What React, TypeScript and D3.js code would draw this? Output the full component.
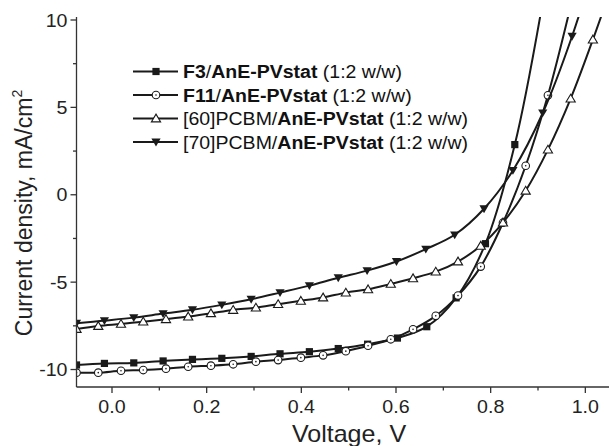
import React from 'react';
import * as d3 from 'd3';

// J-V curves
const f3X = [-0.075, -0.016, 0.046, 0.108, 0.170, 0.232, 0.294, 0.355, 0.417, 0.478, 0.540, 0.603, 0.665, 0.727, 0.789, 0.851, 0.913];
const f3Y = [-9.74, -9.65, -9.62, -9.51, -9.42, -9.36, -9.25, -9.1, -8.98, -8.8, -8.55, -8.2, -7.55, -5.9, -2.8, 2.87, 11.5];

const f11X = [-0.075, -0.029, 0.019, 0.066, 0.114, 0.161, 0.209, 0.256, 0.304, 0.351, 0.399, 0.446, 0.494, 0.541, 0.589, 0.636, 0.684, 0.731, 0.779, 0.826, 0.874, 0.921, 0.969];
const f11Y = [-10.18, -10.18, -10.07, -10.03, -9.95, -9.84, -9.78, -9.7, -9.55, -9.46, -9.32, -9.19, -8.95, -8.64, -8.27, -7.7, -6.93, -5.77, -4.11, -1.6, 1.66, 5.69, 10.8];

const pc60X = [-0.075, -0.029, 0.019, 0.066, 0.114, 0.161, 0.209, 0.256, 0.304, 0.351, 0.399, 0.446, 0.494, 0.541, 0.589, 0.636, 0.684, 0.731, 0.779, 0.826, 0.874, 0.921, 0.969, 1.016, 1.064];
const pc60Y = [-7.68, -7.51, -7.39, -7.26, -7.12, -6.97, -6.78, -6.59, -6.46, -6.26, -6.07, -5.88, -5.6, -5.41, -5.1, -4.78, -4.4, -3.82, -2.92, -1.59, 0.23, 2.58, 5.5, 8.88, 12.6];

const pc70X = [-0.075, -0.016, 0.046, 0.108, 0.170, 0.232, 0.294, 0.355, 0.417, 0.478, 0.539, 0.601, 0.663, 0.724, 0.786, 0.847, 0.910, 0.972, 1.034];
const pc70Y = [-7.35, -7.2, -7.03, -6.8, -6.58, -6.3, -5.98, -5.6, -5.2, -4.75, -4.34, -3.82, -3.11, -2.29, -0.8, 1.39, 4.68, 9.07, 14.5];

const xMajor = [0.0, 0.2, 0.4, 0.6, 0.8, 1.0];
const xMinor = [0.1, 0.3, 0.5, 0.7, 0.9];
const yMajor = [10, 5, 0, -5, -10];
const yMinor = [7.5, 2.5, -2.5, -7.5];

type Marker = 'square' | 'circle' | 'triUp' | 'triDown';

const series: { xs: number[]; ys: number[]; marker: Marker; bold: string; mid: string; tail: string; lead: string }[] = [
  { xs: f3X, ys: f3Y, marker: 'square', lead: '', bold: 'F3', mid: '/', tail: 'AnE-PVstat' },
  { xs: f11X, ys: f11Y, marker: 'circle', lead: '', bold: 'F11', mid: '/', tail: 'AnE-PVstat' },
  { xs: pc60X, ys: pc60Y, marker: 'triUp', lead: '[60]PCBM/', bold: '', mid: '', tail: 'AnE-PVstat' },
  { xs: pc70X, ys: pc70Y, marker: 'triDown', lead: '[70]PCBM/', bold: '', mid: '', tail: 'AnE-PVstat' },
];

const W = 609;
const H = 446;
const left = 76.5;
const right = 609;
const top = 20;
const bottom = 387;
const ink = '#1a1a1a';
const stretch = 1.09; // the source picture is a little wider than tall

const x = d3.scaleLinear().domain([-0.075, 1.05]).range([left, right]);
const y = d3.scaleLinear().domain([-11, 10]).range([bottom, top]);

const line = d3.line<[number, number]>()
  .x(d => x(d[0]))
  .y(d => y(d[1]))
  .curve(d3.curveCatmullRom.alpha(0.5));

const drawMarker = (m: Marker, cx: number, cy: number, key: string | number) => {
  if (m === 'square') {
    return <rect key={key} x={cx - 3.6} y={cy - 3.6} width={7.2} height={7.2} fill={ink} />;
  }
  if (m === 'circle') {
    return (
      <g key={key}>
        <circle cx={cx} cy={cy} r={3.8} fill="#fff" stroke={ink} strokeWidth={1.1} />
        <circle cx={cx} cy={cy} r={0.8} fill={ink} />
      </g>
    );
  }
  if (m === 'triUp') {
    return <path key={key} d={`M${cx},${cy - 4.4}L${cx + 4.6},${cy + 3.4}L${cx - 4.6},${cy + 3.4}Z`} fill="#fff" stroke={ink} strokeWidth={1.1} />;
  }
  return <path key={key} d={`M${cx},${cy + 4.4}L${cx + 4.6},${cy - 3.4}L${cx - 4.6},${cy - 3.4}Z`} fill={ink} />;
};

const App = () => {
  const font = 'Liberation Sans, Arial, Helvetica, sans-serif';
  return (
    <svg width={W} height={H} style={{ position: 'absolute', left: 0, top: 0, background: '#fff' }} fontFamily={font}>
      <defs>
        <clipPath id="plotArea">
          <rect x={left} y={top - 3} width={right - left} height={bottom - top + 3} />
        </clipPath>
      </defs>

      <g clipPath="url(#plotArea)">
        {series.map((s, i) => {
          const pts = s.xs.map((v, j) => [v, s.ys[j]] as [number, number]);
          return (
            <g key={i}>
              <path d={line(pts) || ''} fill="none" stroke={ink} strokeWidth={2} />
              {pts.map((p, j) => drawMarker(s.marker, x(p[0]), y(p[1]), j))}
            </g>
          );
        })}
      </g>

      {/* axes */}
      <line x1={left} x2={left} y1={top - 3} y2={bottom} stroke="#333" strokeWidth={1.3} />
      <line x1={left} x2={right} y1={bottom} y2={bottom} stroke="#333" strokeWidth={1.3} />
      {xMajor.map(t => (
        <g key={t}>
          <line x1={x(t)} x2={x(t)} y1={bottom} y2={bottom + 6} stroke="#333" strokeWidth={1.3} />
          <text transform={`translate(${x(t)},413) scale(${stretch},1)`} textAnchor="middle" fontSize={18} fill="#222">{t.toFixed(1)}</text>
        </g>
      ))}
      {xMinor.map(t => (
        <line key={t} x1={x(t)} x2={x(t)} y1={bottom} y2={bottom + 3.5} stroke="#333" strokeWidth={1.3} />
      ))}
      {yMajor.map(t => (
        <g key={t}>
          <line x1={left - 6} x2={left} y1={y(t)} y2={y(t)} stroke="#333" strokeWidth={1.3} />
          <text transform={`translate(${left - 9},${y(t) + 6.5}) scale(${stretch},1)`} textAnchor="end" fontSize={18} fill="#222">{t}</text>
        </g>
      ))}
      {yMinor.map(t => (
        <line key={t} x1={left - 3.5} x2={left} y1={y(t)} y2={y(t)} stroke="#333" strokeWidth={1.3} />
      ))}

      <text transform={`translate(349,442) scale(${stretch},1)`} textAnchor="middle" fontSize={23} fill="#222">Voltage, V</text>
      <text transform={`translate(32,213) rotate(-90)`} textAnchor="middle" fontSize={23} fill="#222">
        Current density, mA/cm<tspan dy={-10} fontSize={14}>2</tspan>
      </text>

      {/* legend */}
      {series.map((s, i) => {
        const ly = 71.5 + i * 23.5;
        return (
          <g key={i}>
            <line x1={133} x2={178} y1={ly} y2={ly} stroke={ink} strokeWidth={2} />
            {drawMarker(s.marker, 156, ly, 'm')}
            <text transform={`translate(183,${ly + 6.5}) scale(1.055,1)`} fontSize={18.5} fill="#111">
              {s.lead && <tspan>{s.lead}</tspan>}
              {s.bold && <tspan fontWeight="bold">{s.bold}</tspan>}
              {s.mid && <tspan>{s.mid}</tspan>}
              <tspan fontWeight="bold">{s.tail}</tspan>
              <tspan> (1:2 w/w)</tspan>
            </text>
          </g>
        );
      })}
    </svg>
  );
};

export default App;
